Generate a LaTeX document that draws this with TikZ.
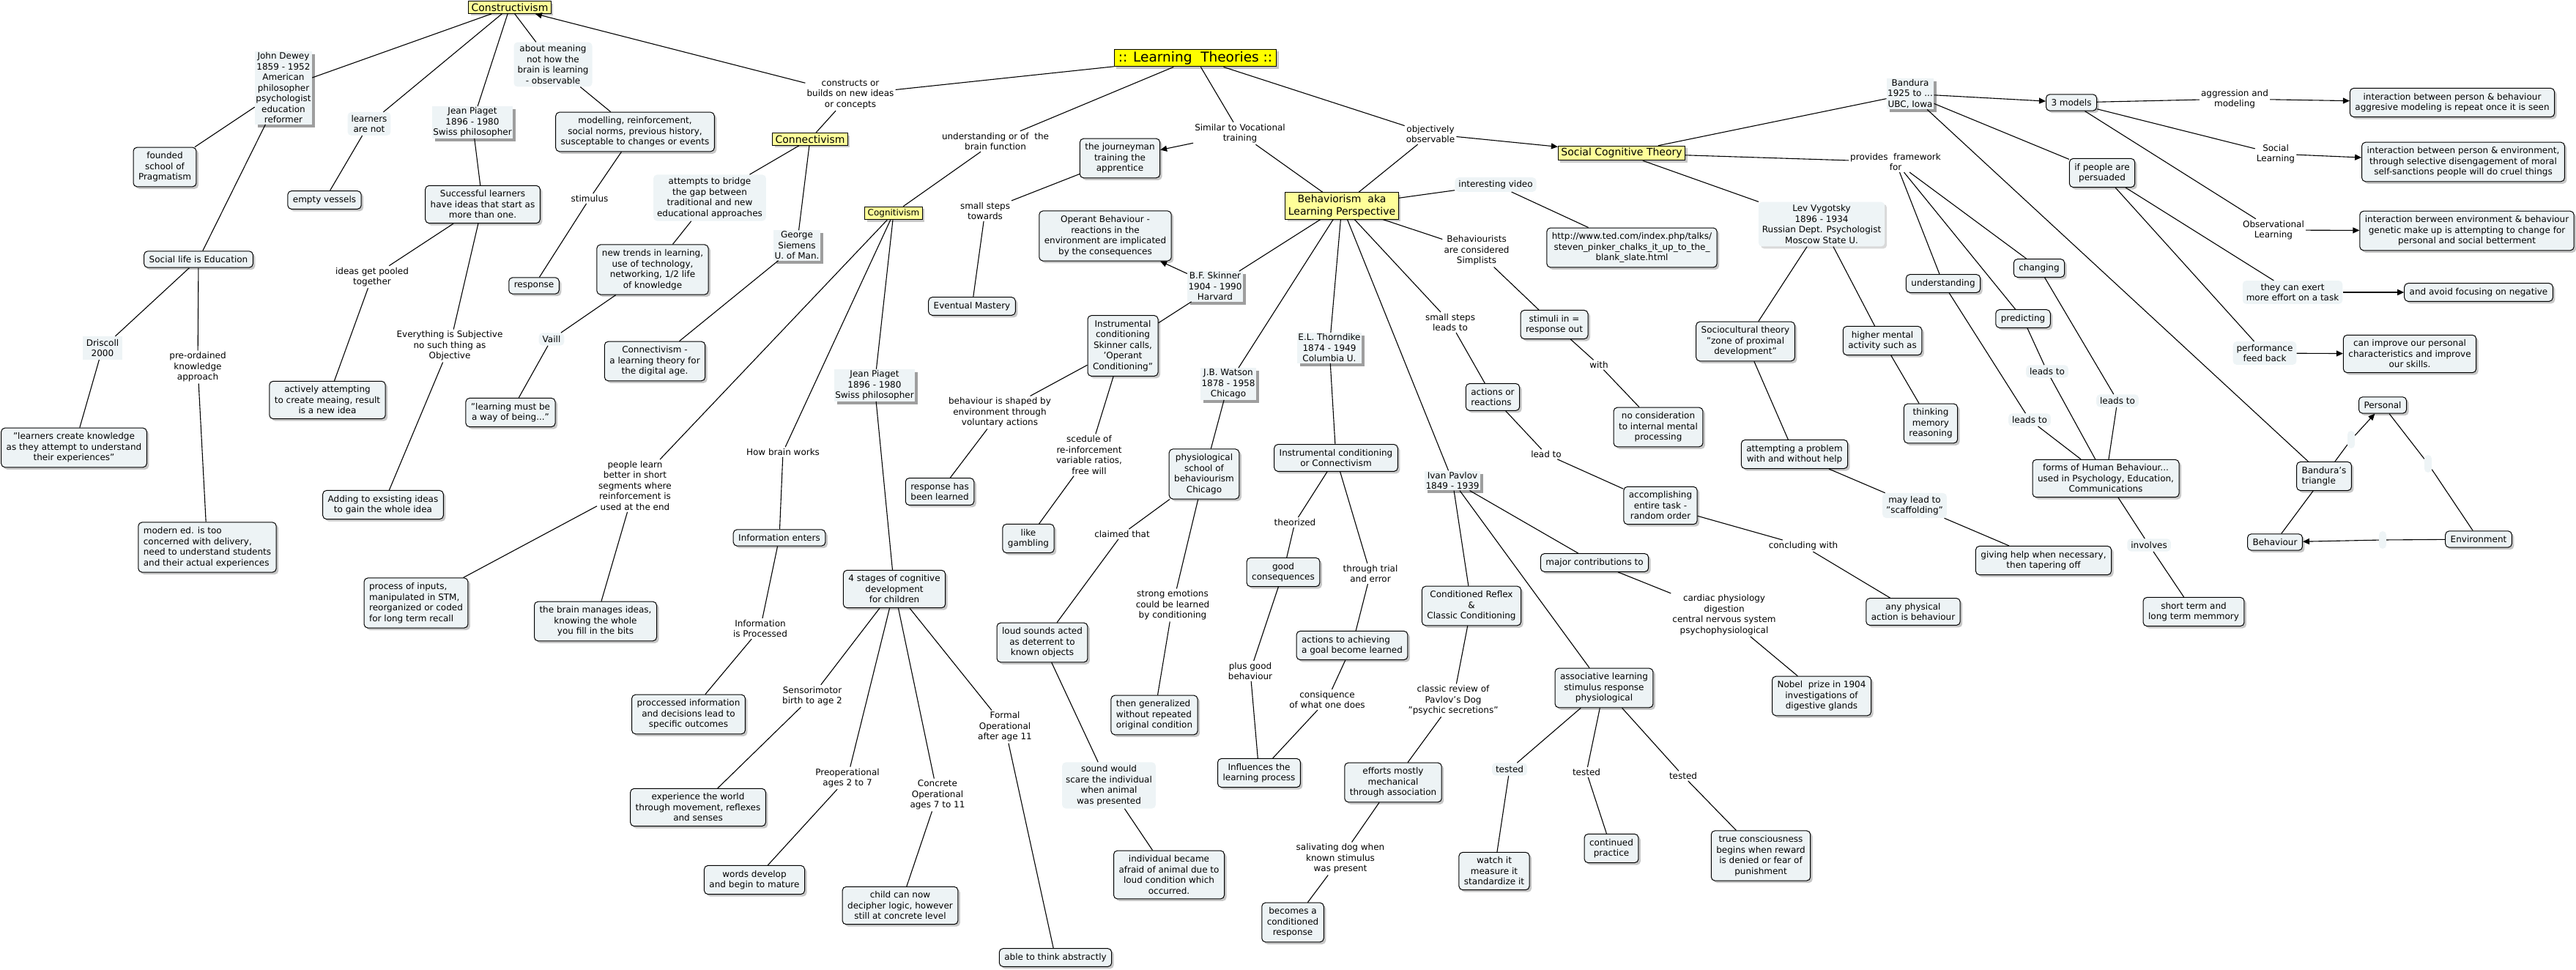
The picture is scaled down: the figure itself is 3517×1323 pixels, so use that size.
\documentclass[tikz,border=0pt]{standalone}
\usepackage{fontspec}
\setmainfont{DejaVu Sans}
\usetikzlibrary{arrows.meta,shadows}
\definecolor{cmfill}{HTML}{EDF3F5}
\definecolor{lkfill}{HTML}{EEF4F6}
\definecolor{cmyellow}{HTML}{FFFF99}
\definecolor{cmtitle}{HTML}{FFFF00}

\begin{document}
\begin{tikzpicture}[x=1pt,y=-1pt,
  base/.style={font=\fontsize{12}{14.5}\selectfont,align=center},
  concept/.style={base,draw=black,line width=1pt,rounded corners=5pt,fill=cmfill,inner xsep=7pt,inner ysep=6.5pt,
    drop shadow={shadow xshift=3pt,shadow yshift=-3pt,fill=black!22,opacity=1}},
  theory/.style={base,font=\fontsize{14}{16.5}\selectfont,draw=black,line width=1pt,fill=cmyellow,inner xsep=4pt,inner ysep=3pt,
    drop shadow={shadow xshift=3pt,shadow yshift=-3pt,fill=black!22,opacity=1}},
  title/.style={theory,font=\fontsize{18.5}{20}\selectfont,fill=cmtitle,inner xsep=5.5pt},
  link/.style={base,inner sep=2pt},
  linkfill/.style={base,fill=lkfill,rounded corners=5pt,inner xsep=5pt,inner ysep=4pt},
  person/.style={base,fill=lkfill,inner sep=1.5pt,
    drop shadow={shadow xshift=4pt,shadow yshift=-4pt,fill=black!38,opacity=1}},
  conn/.style={line width=1.1pt,black},
  arr/.style={conn,-{Triangle[length=9pt,width=8pt]}}]
  \useasboundingbox (0,0) rectangle (3517,1323);

  % --- title
  \node[title] (lt) at (1632,79) {:: Learning\ \ Theories ::};

  % --- constructivism
  \node[theory] (constr) at (696,10) {Constructivism};
  \node[person] (dewey) at (387,120) {John Dewey\\1859 - 1952\\American\\philosopher\\psychologist\\education\\reformer};
  \node[linkfill] (meaning) at (755,88) {about meaning\\not how the\\brain is learning\\- observable};
  \node[linkfill] (notlearn) at (504,169) {learners\\are not};
  \node[person] (piagetA) at (645,167) {Jean Piaget\\1896 - 1980\\Swiss philosopher};
  \node[concept] (founded) at (225,228) {founded\\school of\\Pragmatism};
  \node[concept] (vessels) at (443,273) {empty vessels};
  \node[concept] (success) at (659,279) {Successful learners\\have ideas that start as\\more than one.};
  \node[concept] (modelling) at (867,180) {modelling, reinforcement,\\social norms, previous history,\\susceptable to changes or events};
  \node[link] (stimulus) at (805,271) {stimulus};
  \node[concept] (sociallife) at (271,354) {Social life is Education};
  \node[link] (pooled) at (508,378) {ideas get pooled\\together};
  \node[concept] (response) at (729,390) {response};
  \node[linkfill,rounded corners=0pt] (driscoll) at (140,475) {Driscoll\\2000};
  \node[link] (preord) at (270,501) {pre-ordained\\knowledge\\approach};
  \node[link] (subjective) at (614,472) {Everything is Subjective\\no such thing as\\Objective};
  \node[concept] (actively) at (447,546) {actively attempting\\to create meaing, result\\is a new idea};
  \node[concept] (create) at (101,611) {"learners create knowledge\\as they attempt to understand\\their experiences"};
  \node[concept] (adding) at (523,689) {Adding to exsisting ideas\\to gain the whole idea};
  \node[concept,align=left] (modern) at (283,747) {modern ed. is too\\concerned with delivery,\\need to understand students\\and their actual experiences};

  % --- connectivism
  \node[link] (constructs) at (1161,129) {constructs or\\builds on new ideas\\or concepts};
  \node[theory] (connect) at (1106,190) {Connectivism};
  \node[linkfill] (bridge) at (969,270) {attempts to bridge\\the gap between\\traditional and new\\educational approaches};
  \node[person] (siemens) at (1088,335) {George\\Siemens\\U. of Man.};
  \node[concept] (trends) at (891,368) {new trends in learning,\\use of technology,\\networking, 1/2 life\\of knowledge};
  \node[linkfill] (vaill) at (753,463) {Vaill};
  \node[concept] (wayof) at (697,563) {"learning must be\\a way of being..."};
  \node[concept] (digital) at (894,493) {Connectivism -\\a learning theory for\\the digital age.};

  % --- cognitivism
  \node[link] (underst) at (1359,193) {understanding or of\ \ the\\brain function};
  \node[theory,font=\fontsize{12}{14.5}\selectfont] (cognit) at (1220,291) {Cognitivism};
  \node[link] (segments) at (867,663) {people learn\\better in short\\segments where\\reinforcement is\\used at the end};
  \node[concept,align=left] (inputs) at (568,823) {process of inputs,\\manipulated in STM,\\reorganized or coded\\for long term recall};
  \node[concept] (bits) at (813,848) {the brain manages ideas,\\knowing the whole\\you fill in the bits};
  \node[link] (brainworks) at (1069,617) {How brain works};
  \node[concept] (enters) at (1064,734) {Information enters};
  \node[link] (processed) at (1038,858) {Information\\is Processed};
  \node[concept] (outcomes) at (940,975) {proccessed information\\and decisions lead to\\specific outcomes};
  \node[person] (piagetB) at (1194,526) {Jean Piaget\\1896 - 1980\\Swiss philosopher};
  \node[concept] (stages) at (1221,804) {4 stages of cognitive\\development\\for children};
  \node[link] (sensori) at (1109,950) {Sensorimotor\\birth to age 2};
  \node[concept] (experience) at (953,1102) {experience the world\\through movement, reflexes\\and senses};
  \node[link] (preop) at (1157,1062) {Preoperational\\ages 2 to 7};
  \node[concept] (words) at (1030,1201) {words develop\\and begin to mature};
  \node[link] (concrete) at (1280,1085) {Concrete\\Operational\\ages 7 to 11};
  \node[concept] (decipher) at (1229,1236) {child can now\\decipher logic, however\\still at concrete level};
  \node[link] (formal) at (1372,992) {Formal\\Operational\\after age 11};
  \node[concept] (abstract) at (1441,1307) {able to think abstractly};

  % --- behaviorism
  \node[link] (similar) at (1693,182) {Similar to Vocational\\training};
  \node[concept] (journey) at (1529,216) {the journeyman\\training the\\apprentice};
  \node[link] (towards) at (1345,288) {small steps\\towards};
  \node[concept] (mastery) at (1327,418) {Eventual Mastery};
  \node[link] (objective) at (1953,183) {objectively\\observable};
  \node[theory] (behav) at (1832,281) {Behaviorism\ \ aka\\Learning Perspective};
  \node[linkfill] (video) at (2042,252) {interesting video};
  \node[concept] (ted) at (2228,338) {http://www.ted.com/index.php/talks/\\steven\_pinker\_chalks\_it\_up\_to\_the\_\\blank\_slate.html};
  \node[link] (simplists) at (2016,342) {Behaviourists\\are considered\\Simplists};
  \node[concept] (stimin) at (2122,443) {stimuli in =\\response out};
  \node[link] (with) at (2183,498) {with};
  \node[concept] (noconsid) at (2264,583) {no consideration\\to internal mental\\processing};
  \node[link] (stepslead) at (1980,440) {small steps\\leads to};
  \node[concept,align=left] (reactions) at (2038,542) {actions or\\reactions};
  \node[link] (leadto) at (2111,620) {lead to};
  \node[concept] (accompl) at (2267,690) {accomplishing\\entire task -\\random order};
  \node[link] (concluding) at (2462,745) {concluding with};
  \node[concept] (physical) at (2612,835) {any physical\\action is behaviour};
  \node[concept] (operant) at (1509,322) {Operant Behaviour -\\reactions in the\\environment are implicated\\by the consequences};
  \node[person] (skinner) at (1659,391) {B.F. Skinner\\1904 - 1990\\Harvard};
  \node[concept] (instr) at (1533,472) {Instrumental\\conditioning\\Skinner calls,\\'Operant\\Conditioning"};
  \node[link] (shaped) at (1365,563) {behaviour is shaped by\\environment through\\voluntary actions};
  \node[concept] (learned) at (1283,671) {response has\\been learned};
  \node[link] (schedule) at (1487,621) {scedule of\\re-inforcement\\variable ratios,\\free will};
  \node[concept] (gambling) at (1404,735) {like\\gambling};
  \node[person] (watson) at (1677,524) {J.B. Watson\\1878 - 1958\\Chicago};
  \node[concept] (physio) at (1644,647) {physiological\\school of\\behaviourism\\Chicago};
  \node[link] (claimed) at (1532,729) {claimed that};
  \node[concept] (loud) at (1423,877) {loud sounds acted\\as deterrent to\\known objects};
  \node[linkfill] (scare) at (1514,1072) {sound would\\scare the individual\\when animal\\was presented};
  \node[concept] (afraid) at (1596,1194) {individual became\\afraid of animal due to\\loud condition which\\occurred.};
  \node[link] (emotions) at (1601,826) {strong emotions\\could be learned\\by conditioning};
  \node[concept,align=left] (generalized) at (1576,976) {then generalized\\without repeated\\original condition};
  \node[person] (thorndike) at (1815,475) {E.L. Thorndike\\1874 - 1949\\Columbia U.};
  \node[concept] (instrconn) at (1824,625) {Instrumental conditioning\\or Connectivism};
  \node[link] (theorized) at (1768,713) {theorized};
  \node[concept] (goodcons) at (1752,781) {good\\consequences};
  \node[link] (plusgood) at (1707,916) {plus good\\behaviour};
  \node[concept] (influences) at (1719,1055) {Influences the\\learning process};
  \node[link] (trial) at (1871,783) {through trial\\and error};
  \node[concept,align=left] (achieving) at (1846,881) {actions to achieving\\a goal become learned};
  \node[link] (consiq) at (1812,955) {consiquence\\of what one does};
  \node[person] (pavlov) at (1983,656) {Ivan Pavlov\\1849 - 1939};
  \node[concept] (reflex) at (2009,827) {Conditioned Reflex\\\&\\Classic Conditioning};
  \node[link] (classic) at (1984,956) {classic review of\\Pavlov's Dog\\"psychic secretions"};
  \node[concept] (efforts) at (1902,1068) {efforts mostly\\mechanical\\through association};
  \node[link] (salivating) at (1830,1172) {salivating dog when\\known stimulus\\was present};
  \node[concept] (becomes) at (1765,1259) {becomes a\\conditioned\\response};
  \node[concept] (assoc) at (2190,939) {associative learning\\stimulus response\\physiological};
  \node[linkfill] (testedA) at (2061,1050) {tested};
  \node[link] (testedB) at (2166,1054) {tested};
  \node[link] (testedC) at (2298,1059) {tested};
  \node[concept] (watch) at (2040,1189) {watch it\\measure it\\standardize it};
  \node[concept] (practice) at (2200,1158) {continued\\practice};
  \node[concept] (conscious) at (2404,1168) {true consciousness\\begins when reward\\is denied or fear of\\punishment};
  \node[concept] (major) at (2177,768) {major contributions to};
  \node[link] (cardiac) at (2354,839) {cardiac physiology\\digestion\\central nervous system\\psychophysiological};
  \node[concept] (nobel) at (2487,950) {Nobel\ \ prize in 1904\\investigations of\\digestive glands};

  % --- social cognitive theory
  \node[theory] (sct) at (2214,209) {Social Cognitive Theory};
  \node[person] (bandura) at (2608,128) {Bandura\\1925 to ...\\UBC, Iowa};
  \node[concept] (models) at (2828,140) {3 models};
  \node[link] (aggr) at (3051,135) {aggression and\\modeling};
  \node[concept] (interA) at (3348,140) {interaction between person \& behaviour\\aggresive modeling is repeat once it is seen};
  \node[link] (social) at (3107,210) {Social\\Learning};
  \node[concept] (interB) at (3363,221) {interaction between person \& environment,\\through selective disengagement of moral\\self-sanctions people will do cruel things};
  \node[link] (observ) at (3104,314) {Observational\\Learning};
  \node[concept] (interC) at (3368,315) {interaction berween environment \& behaviour\\genetic make up is attempting to change for\\personal and social betterment};
  \node[concept] (persuaded) at (2870,236) {if people are\\persuaded};
  \node[linkfill] (exert) at (3130,399) {they can exert\\more effort on a task};
  \node[concept] (negative) at (3384,399) {and avoid focusing on negative};
  \node[linkfill] (feedback) at (3092,482) {performance\\feed back};
  \node[concept] (improve) at (3290,483) {can improve our personal\\characteristics and improve\\our skills.};
  \node[link] (provides) at (2588,221) {provides\ \ framework\\for};
  \node[concept] (understanding) at (2653,387) {understanding};
  \node[concept] (changing) at (2784,366) {changing};
  \node[concept] (predicting) at (2762,435) {predicting};
  \node[linkfill] (leadsA) at (2795,507) {leads to};
  \node[linkfill] (leadsB) at (2891,547) {leads to};
  \node[linkfill] (leadsC) at (2771,573) {leads to};
  \node[concept] (forms) at (2875,653) {forms of Human Behaviour...\\used in Psychology, Education,\\Communications};
  \node[linkfill] (involves) at (2934,744) {involves};
  \node[concept] (memory) at (2995,835) {short term and\\long term memmory};
  \node[linkfill,drop shadow={shadow xshift=3pt,shadow yshift=-3pt,fill=black!15,opacity=1}] (vygotsky) at (2487,306) {Lev Vygotsky\\1896 - 1934\\Russian Dept. Psychologist\\Moscow State U.};
  \node[concept] (zone) at (2383,466) {Sociocultural theory\\"zone of proximal\\development"};
  \node[concept] (problem) at (2450,620) {attempting a problem\\with and without help};
  \node[linkfill] (scaffold) at (2614,690) {may lead to\\"scaffolding"};
  \node[concept] (helpoff) at (2790,765) {giving help when necessary,\\then tapering off};
  \node[concept] (higher) at (2570,465) {higher mental\\activity such as};
  \node[concept] (thinking) at (2636,578) {thinking\\memory\\reasoning};

  % --- bandura's triangle
  \node[concept,align=left] (triangle) at (3173,650) {Bandura's\\triangle};
  \node[concept] (personal) at (3253,553) {Personal};
  \node[concept] (behaviour) at (3106,740) {Behaviour};
  \node[concept] (environment) at (3384,736) {Environment};
  \node[linkfill,minimum width=10pt,minimum height=24pt,inner sep=0pt] (blankA) at (3210,600) {};
  \node[linkfill,minimum width=10pt,minimum height=24pt,inner sep=0pt] (blankB) at (3315,633) {};
  \node[linkfill,minimum width=10pt,minimum height=24pt,inner sep=0pt] (blankC) at (3253,737) {};

  % --- connectors
  \foreach \a/\b in {constr/dewey,dewey/founded,dewey/sociallife,constr/notlearn,notlearn/vessels,
      constr/piagetA,piagetA/success,constr/meaning,meaning/modelling,modelling/stimulus,stimulus/response,
      sociallife/driscoll,driscoll/create,sociallife/preord,preord/modern,success/pooled,pooled/actively,
      success/subjective,subjective/adding,
      lt/constructs,constructs/connect,connect/bridge,bridge/trends,trends/vaill,vaill/wayof,
      connect/siemens,siemens/digital,
      lt/underst,underst/cognit,cognit/segments,segments/inputs,segments/bits,cognit/brainworks,
      brainworks/enters,enters/processed,processed/outcomes,cognit/piagetB,piagetB/stages,
      stages/sensori,sensori/experience,stages/preop,preop/words,stages/concrete,concrete/decipher,
      stages/formal,formal/abstract,
      lt/similar,similar/behav,journey/towards,towards/mastery,lt/objective,objective/behav,
      behav/video,video/ted,behav/simplists,simplists/stimin,stimin/with,with/noconsid,
      behav/stepslead,stepslead/reactions,reactions/leadto,leadto/accompl,accompl/concluding,concluding/physical,
      behav/skinner,skinner/instr,instr/shaped,shaped/learned,instr/schedule,schedule/gambling,
      behav/watson,watson/physio,physio/claimed,claimed/loud,loud/scare,scare/afraid,
      physio/emotions,emotions/generalized,
      behav/thorndike,thorndike/instrconn,instrconn/theorized,theorized/goodcons,goodcons/plusgood,
      plusgood/influences,instrconn/trial,trial/achieving,achieving/consiq,consiq/influences,
      behav/pavlov,pavlov/reflex,reflex/classic,classic/efforts,efforts/salivating,salivating/becomes,
      pavlov/assoc,assoc/testedA,testedA/watch,assoc/testedB,testedB/practice,assoc/testedC,testedC/conscious,
      pavlov/major,major/cardiac,cardiac/nobel,
      sct/bandura,models/aggr,models/social,models/observ,bandura/persuaded,persuaded/exert,
      persuaded/feedback,bandura/triangle,
      sct/provides,provides/understanding,provides/predicting,provides/changing,
      understanding/leadsC,leadsC/forms,predicting/leadsA,leadsA/forms,changing/leadsB,leadsB/forms,
      forms/involves,involves/memory,
      sct/vygotsky,vygotsky/zone,zone/problem,problem/scaffold,scaffold/helpoff,vygotsky/higher,higher/thinking,
      triangle/blankA,personal/blankB,blankB/environment,environment/blankC,triangle/behaviour}
    \draw[conn] (\a) -- (\b);
  \foreach \a/\b in {constructs/constr,similar/journey,skinner/operant,objective/sct,bandura/models,
      aggr/interA,social/interB,observ/interC,exert/negative,feedback/improve,blankA/personal,blankC/behaviour}
    \draw[arr] (\a) -- (\b);
\end{tikzpicture}
\end{document}
